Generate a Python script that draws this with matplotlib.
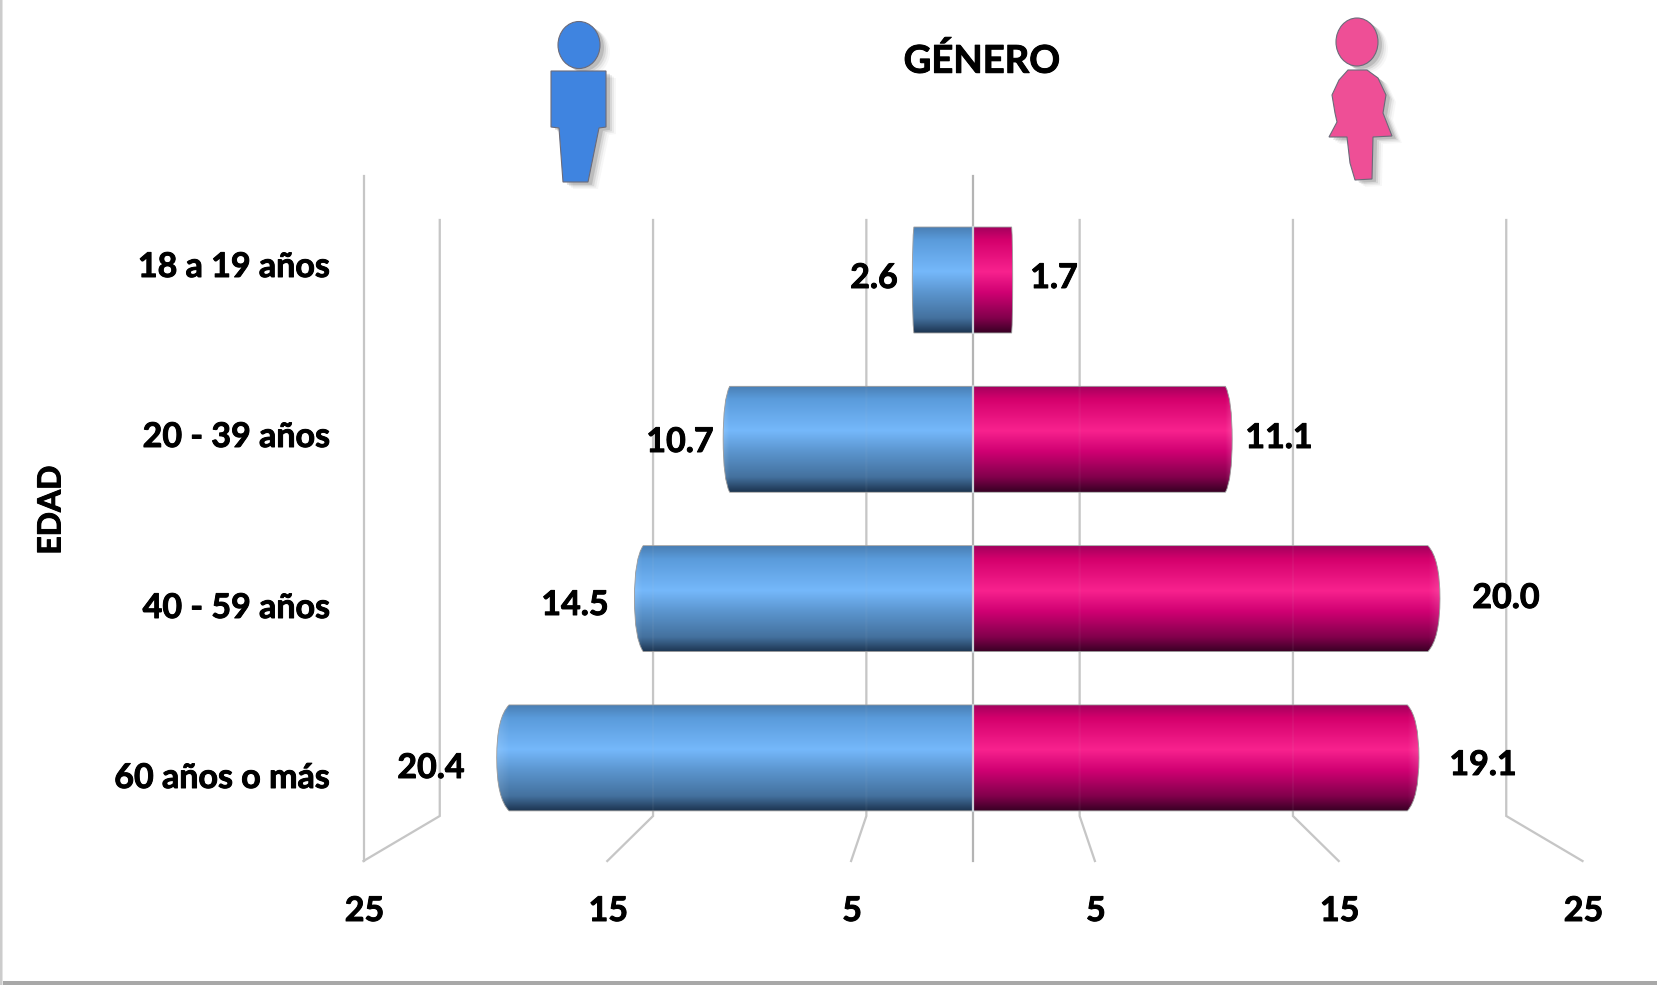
import numpy as np
import matplotlib
matplotlib.use('Agg')
import matplotlib.pyplot as plt
import matplotlib.patheffects as pe
from matplotlib.colors import LinearSegmentedColormap
from matplotlib.patches import Ellipse, PathPatch, Polygon, Rectangle
from matplotlib.path import Path
from matplotlib.transforms import Affine2D

plt.rcParams['font.family'] = ['Lato', 'DejaVu Sans']

# data
age_groups = ['18 a 19 años', '20 - 39 años', '40 - 59 años', '60 años o más']
men = [2.6, 10.7, 14.5, 20.4]
women = [1.7, 11.1, 20.0, 19.1]
tick_values = [25, 15, 5, 5, 15, 25]
tick_signs = [-1, -1, -1, 1, 1, 1]

# layout, in pixels of the 1657x985 picture
W, H = 1657, 985
CENTER_X = 973
UNIT_PX = 23.35
ROW0_Y = 280
ROW_PX = 159.3
BAR_H = 0.665
BACK_PX = 21.33
FRONT_PX = 24.38
GRID_TOP = 220
GRID_BACK = 816
GRID_FRONT = 861
WALL_TOP = 176
FONT = 24.5

age_label_y = [267, 437, 608, 778]
men_label_xy = [(874, 278), (680, 442), (575, 605), (431, 768)]
women_label_xy = [(1054, 278), (1279, 438), (1506, 598), (1483, 765)]

blue_cmap = LinearSegmentedColormap.from_list('blue', [
    (0.0, '#4a7fb5'), (0.12, '#5a9bdb'), (0.42, '#75b8fb'), (0.62, '#5b95ce'),
    (0.86, '#44719e'), (1.0, '#1c3450')])
pink_cmap = LinearSegmentedColormap.from_list('pink', [
    (0.0, '#a4005e'), (0.12, '#d4006c'), (0.42, '#f8228e'), (0.62, '#cf0072'),
    (0.86, '#82004c'), (1.0, '#380024')])

fig = plt.figure(figsize=(W / 100, H / 100), dpi=100)
ax = fig.add_axes([0, 0, 1, 1])
ax.set_xlim(-CENTER_X / UNIT_PX, (W - CENTER_X) / UNIT_PX)
ax.set_ylim((H - ROW0_Y) / ROW_PX, -ROW0_Y / ROW_PX)
ax.axis('off')

# top-left pixel coordinates for everything that is not a bar
px = Affine2D().scale(1, -1).translate(0, H)


def draw_grid(zorder, alpha=1.0):
    for v, s in zip(tick_values, tick_signs):
        back_x = CENTER_X + s * v * BACK_PX
        front_x = CENTER_X + s * v * FRONT_PX
        ax.plot([back_x, back_x, front_x], [GRID_TOP, GRID_BACK, GRID_FRONT], color='#c6c6c6',
                lw=1.6, alpha=alpha, transform=px, zorder=zorder, solid_joinstyle='miter')


def draw_bar(y, value, sign, cmap):
    # cylinder with a curved outer end, the bulge grows away from the centre
    cap = value * 0.026
    x1 = sign * value
    x0 = x1 - sign * cap
    top, bottom = y - BAR_H / 2, y + BAR_H / 2
    codes = [Path.MOVETO, Path.LINETO, Path.CURVE3, Path.CURVE3, Path.CURVE3, Path.CURVE3,
             Path.LINETO, Path.CLOSEPOLY]
    verts = [(0, top), (x0, top), (x1, top + BAR_H * 0.12), (x1, y), (x1, bottom - BAR_H * 0.12),
             (x0, bottom), (0, bottom), (0, top)]
    shape = PathPatch(Path(verts, codes), facecolor='none', edgecolor='#9a9a9a', lw=0.6, zorder=3.2)
    ax.add_patch(shape)
    grad = np.linspace(0, 1, 256).reshape(-1, 1)
    left, right = sorted([0, x1])
    im = ax.imshow(grad, cmap=cmap, extent=(left, right, bottom, top), aspect='auto', zorder=3)
    im.set_clip_path(shape)
    # the curved end catches a little more light
    shine = np.ones((1, 32, 4))
    shine[0, :, 3] = np.linspace(0, 0.13, 32)
    if sign < 0:
        shine = shine[:, ::-1]
    left, right = sorted([x0, x1])
    im2 = ax.imshow(shine, extent=(left, right, bottom, top), aspect='auto', zorder=3.1)
    im2.set_clip_path(shape)


draw_grid(1)

# outer wall and centre line
wall_x = CENTER_X - tick_values[0] * FRONT_PX
ax.plot([wall_x, wall_x], [WALL_TOP, GRID_FRONT], color='#c6c6c6', lw=1.6, transform=px, zorder=1)
ax.plot([CENTER_X, CENTER_X], [WALL_TOP, GRID_FRONT], color='#b4b4b4', lw=1.6, transform=px, zorder=1)

for i in range(len(age_groups)):
    draw_bar(i, men[i], -1, blue_cmap)
    draw_bar(i, women[i], 1, pink_cmap)
    # inner seam between both halves
    ax.plot([0, 0], [i - BAR_H / 2, i + BAR_H / 2], color='#c8d0d8', lw=1.6, zorder=5)

draw_grid(4, alpha=0.06)

# text, the stroke brings Lato Bold closer to the heavier original
heavy = [pe.withStroke(linewidth=0.7, foreground='black')]
txt = dict(transform=px, fontsize=FONT, fontweight='bold', color='black', zorder=6, va='center',
           path_effects=heavy)
for name, y in zip(age_groups, age_label_y):
    ax.text(330, y, name, ha='right', **txt)
for v, (x, y) in zip(men, men_label_xy):
    ax.text(x, y, f'{v:.1f}', ha='center', **txt)
for v, (x, y) in zip(women, women_label_xy):
    ax.text(x, y, f'{v:.1f}', ha='center', **txt)
for v, s in zip(tick_values, tick_signs):
    ax.text(CENTER_X + s * v * FRONT_PX + 1, 911, str(v), ha='center', **txt)
title_txt = dict(txt, fontsize=27.5)
ax.text(982, 61, 'GÉNERO', ha='center', **title_txt)
edad_txt = dict(txt, fontsize=23)
ax.text(51, 510, 'EDAD', ha='center', rotation=90, **edad_txt)

# person icons
man_body = [(551, 71), (606, 71), (606, 127), (599, 128), (588, 182), (563, 182), (559, 128), (551, 127)]
man_head = (579, 45, 42, 47)
woman_body = [(1348, 70), (1367, 70), (1378, 78), (1386, 95), (1383, 113), (1392, 136), (1373, 137),
              (1372, 179), (1355, 180), (1350, 163), (1347, 137), (1329, 137), (1337, 122), (1335, 113),
              (1332, 95), (1339, 80)]
woman_head = (1357, 42, 42, 48)


def draw_person(body, head, color):
    # soft shadow from a few see-through copies
    for off, alpha in [(10, 0.03), (8, 0.05), (6, 0.08), (4, 0.12)]:
        pts = [(x + off, y + off * 0.7) for x, y in body]
        ax.add_patch(Polygon(pts, closed=True, fc='black', ec='none', alpha=alpha, transform=px, zorder=6))
        ax.add_patch(Ellipse((head[0] + off, head[1] + off * 0.7), head[2], head[3], fc='black', ec='none',
                             alpha=alpha, transform=px, zorder=6))
    ax.add_patch(Polygon(body, closed=True, fc=color, ec='#6b6b7a', lw=0.8, transform=px, zorder=7))
    ax.add_patch(Ellipse(head[:2], head[2], head[3], fc=color, ec='#6b6b7a', lw=0.8, transform=px, zorder=7))


draw_person(man_body, man_head, '#3f84e0')
draw_person(woman_body, woman_head, '#ee4f96')

# picture frame with its shadow
ax.add_patch(Rectangle((0, 981), W, 4, fc='#a8a8a8', ec='none', transform=px, zorder=8))
ax.add_patch(Rectangle((0, 0), 1.5, H, fc='#cccccc', ec='none', transform=px, zorder=8))
ax.add_patch(Rectangle((1.5, 0), 1.5, H, fc='#e4e4e4', ec='none', transform=px, zorder=8))

plt.savefig('out.png', dpi=100)
